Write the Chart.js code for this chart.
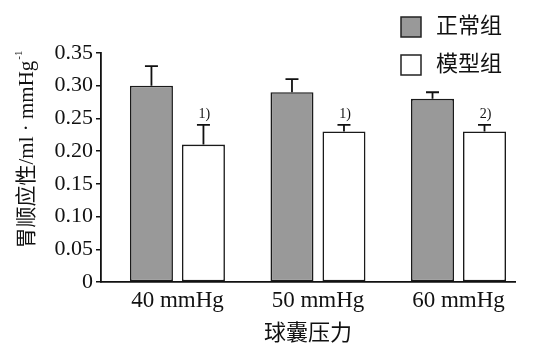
<!DOCTYPE html>
<html>
<head>
<meta charset="utf-8">
<script src="https://cdn.jsdelivr.net/npm/chart.js@4/dist/chart.umd.min.js"></script>
<style>
html,body{margin:0;padding:0;background:#fff;}
#wrap{width:544px;height:351px;position:relative;}
</style>
</head>
<body>
<div id="wrap"><canvas id="c" width="544" height="351"></canvas></div>
<script>
const categories = ["40 mmHg", "50 mmHg", "60 mmHg"];
const seriesNames = ["正常组", "模型组"];
const normalValues = [0.30, 0.29, 0.28];
const normalErrors = [0.03, 0.02, 0.01];
const modelValues = [0.21, 0.23, 0.23];
const modelErrors = [0.03, 0.01, 0.01];
const modelMarks = ["1)", "1)", "2)"];
const yTicks = [0, 0.05, 0.10, 0.15, 0.20, 0.25, 0.30, 0.35];
const xTitle = "球囊压力";
const yTitleMain = "胃顺应性/ml · mmHg";
const yTitleSup = "-1";

const SERIF = '"Liberation Serif", "Times New Roman", serif';
const CJK = '"Liberation Serif", "Noto Sans CJK SC", serif';

const errs = [normalErrors, modelErrors];
const marks = [null, modelMarks];

const extras = {
  id: 'extras',
  afterDatasetsDraw(chart) {
    const ctx = chart.ctx;
    const ys = chart.scales.y;
    chart.data.datasets.forEach((ds, di) => {
      const meta = chart.getDatasetMeta(di);
      meta.data.forEach((el, i) => {
        const v = ds.data[i].y;
        const top = ys.getPixelForValue(v + errs[di][i]);
        ctx.save();
        ctx.strokeStyle = '#111';
        ctx.lineWidth = 1.8;
        ctx.beginPath();
        ctx.moveTo(el.x, el.y);
        ctx.lineTo(el.x, top);
        ctx.moveTo(el.x - 6.5, top);
        ctx.lineTo(el.x + 6.5, top);
        ctx.stroke();
        if (marks[di]) {
          ctx.fillStyle = '#111';
          ctx.font = '14px ' + SERIF;
          ctx.textAlign = 'center';
          ctx.textBaseline = 'bottom';
          ctx.fillText(marks[di][i], el.x + 1, top - 4);
        }
        ctx.restore();
      });
    });
  },
  afterDraw(chart) {
    const ctx = chart.ctx;
    ctx.save();
    chart.data.datasets.forEach((ds, di) => {
      const y0 = 17 + di * 38;
      ctx.fillStyle = ds.backgroundColor;
      ctx.fillRect(401, y0, 20, 20);
      ctx.strokeStyle = '#222';
      ctx.lineWidth = 1.5;
      ctx.strokeRect(401, y0, 20, 20);
      ctx.fillStyle = '#111';
      ctx.font = '22px ' + CJK;
      ctx.textAlign = 'left';
      ctx.textBaseline = 'middle';
      ctx.fillText(ds.label, 436, y0 + 10);
    });
    ctx.translate(27, 150);
    ctx.rotate(-Math.PI / 2);
    ctx.font = '21px ' + CJK;
    const w1 = ctx.measureText(yTitleMain).width;
    ctx.font = '11px ' + SERIF;
    const w2 = ctx.measureText(yTitleSup).width;
    const start = -(w1 + w2) / 2;
    ctx.fillStyle = '#111';
    ctx.textBaseline = 'middle';
    ctx.textAlign = 'left';
    ctx.font = '21px ' + CJK;
    ctx.fillText(yTitleMain, start, 0);
    ctx.font = '11px ' + SERIF;
    ctx.fillText(yTitleSup, start + w1 + 1, -8);
    ctx.restore();
  }
};

new Chart(document.getElementById('c'), {
  type: 'bar',
  data: {
    datasets: [
      {
        label: seriesNames[0],
        data: normalValues.map((v, i) => ({x: i, y: v})),
        backgroundColor: '#999999',
        borderColor: '#1a1a1a',
        borderWidth: 1.6,
        borderSkipped: false,
        categoryPercentage: 0.740,
        barPercentage: 0.827
      },
      {
        label: seriesNames[1],
        data: modelValues.map((v, i) => ({x: i, y: v})),
        backgroundColor: '#ffffff',
        borderColor: '#1a1a1a',
        borderWidth: 1.6,
        borderSkipped: false,
        categoryPercentage: 0.740,
        barPercentage: 0.827
      }
    ]
  },
  options: {
    responsive: false,
    animation: false,
    devicePixelRatio: 1,
    layout: {padding: {top: 53, right: 29, left: 0, bottom: 0}},
    plugins: {legend: {display: false}, tooltip: {enabled: false}},
    scales: {
      x: {
        type: 'linear',
        offset: false,
        min: -0.544,
        max: 2.402,
        afterBuildTicks(s) { s.ticks = categories.map((c, i) => ({value: i})); },
        afterFit(s) { s.height = 69; },
        grid: {display: false, drawTicks: false, offset: false},
        border: {display: true, color: '#111', width: 1.8},
        ticks: {
          color: '#111',
          font: {family: SERIF, size: 23},
          padding: 5,
          maxRotation: 0,
          autoSkip: false,
          callback: (v) => categories[v]
        },
        title: {
          display: true,
          text: xTitle,
          color: '#111',
          font: {family: CJK, size: 22},
          padding: {top: 0, bottom: 4}
        }
      },
      y: {
        min: 0,
        max: 0.35,
        afterBuildTicks(s) { s.ticks = yTicks.map(v => ({value: v})); },
        afterFit(s) { s.width = 101; },
        grid: {display: true, drawOnChartArea: false, drawTicks: true, tickLength: 5, color: '#111', lineWidth: 1.5},
        border: {display: true, color: '#111', width: 1.8},
        ticks: {
          color: '#111',
          font: {family: SERIF, size: 22},
          padding: 3,
          callback: (v) => v === 0 ? '0' : v.toFixed(2)
        }
      }
    }
  },
  plugins: [extras]
});
</script>
</body>
</html>
